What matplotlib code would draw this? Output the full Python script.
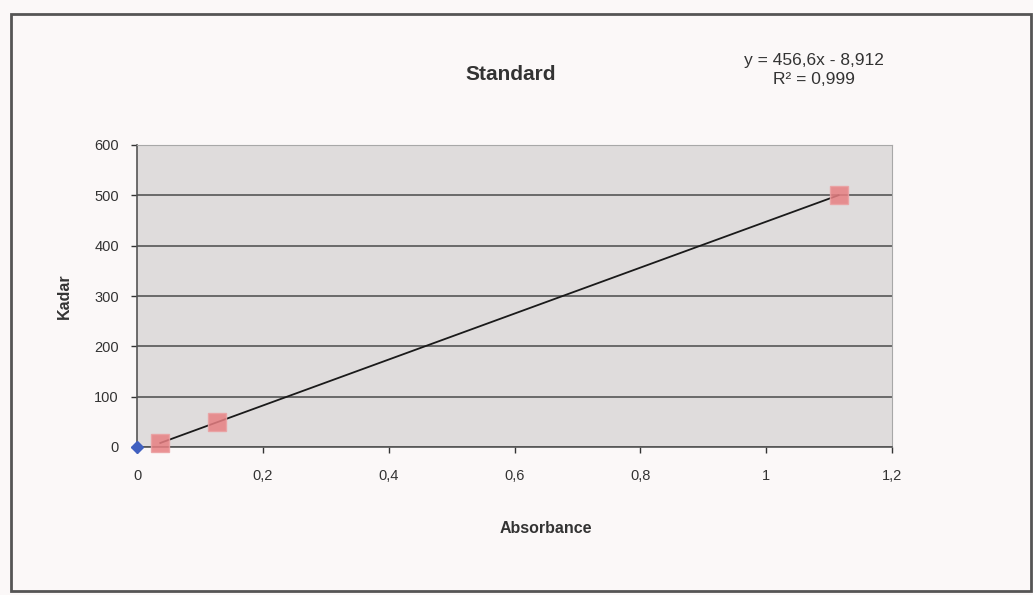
import matplotlib.pyplot as plt
from matplotlib.patches import Rectangle

plt.rcParams['font.family'] = ['Liberation Sans', 'DejaVu Sans']

# standard curve data
blank_x = [0.0]
blank_y = [0.0]
absorbance = [0.037, 0.127, 1.115]
kadar = [8, 50, 500]

# linear trendline reported on the chart
slope = 456.6
intercept = -8.912
r2 = 0.999

x_ticks = [0, 0.2, 0.4, 0.6, 0.8, 1, 1.2]
x_labels = ['0', '0,2', '0,4', '0,6', '0,8', '1', '1,2']
y_ticks = [0, 100, 200, 300, 400, 500, 600]

W, H = 1033, 595
fig = plt.figure(figsize=(W / 100, H / 100), dpi=100)
fig.patch.set_facecolor('#fbf8f8')

# chart frame
fig.patches.append(Rectangle((11 / W, 4 / H), (1031 - 11) / W, (581 - 4) / H,
                             transform=fig.transFigure, fill=False,
                             edgecolor='#555555', linewidth=2))

ax = fig.add_axes([137 / W, 148 / H, 755 / W, 302 / H])
ax.set_facecolor('#dfdcdc')
ax.set_xlim(0, 1.2)
ax.set_ylim(0, 600)

ax.set_yticks(y_ticks)
ax.set_xticks(x_ticks)
ax.set_xticklabels(x_labels)
ax.tick_params(labelsize=10.5, colors='#333333', length=4, width=1, pad=12)
ax.tick_params(axis='y', pad=9)
ax.grid(axis='y', color='#4a4a4a', linewidth=1.1)
ax.set_axisbelow(True)

for side in ['top', 'right']:
    ax.spines[side].set_color('#a8a8a8')
ax.spines['left'].set_color('#555555')
ax.spines['bottom'].set_color('#555555')
ax.spines['left'].set_linewidth(1.2)
ax.spines['bottom'].set_linewidth(1.2)

# trendline over the fitted range
x0, x1 = min(absorbance), max(absorbance)
ax.plot([x0, x1], [slope * x0 + intercept, slope * x1 + intercept],
        color='#1a1a1a', linewidth=1.3, zorder=3)

ax.plot(absorbance, kadar, 's', color='#e77f82', markersize=12.5,
        markeredgecolor='#eba0a2', alpha=0.85, zorder=4, clip_on=False)
ax.plot(blank_x, blank_y, 'D', color='#4060c0', markersize=6,
        zorder=5, clip_on=False)

ax.set_xlabel('Absorbance', fontsize=11.5, fontweight='bold', color='#333333')
ax.xaxis.set_label_coords(0.542, -0.245)
ax.set_ylabel('Kadar', fontsize=11.5, fontweight='bold', color='#333333')
ax.yaxis.set_label_coords(-0.086, 0.5)

fig.text(511 / W, 1 - 75 / H, 'Standard', fontsize=15, fontweight='bold',
         color='#333333', ha='center', va='center')
fig.text(814 / W, 1 - 60 / H, 'y = {:g}x - {:g}'.format(slope, -intercept).replace('.', ','),
         fontsize=12.5, color='#333333', ha='center', va='center')
fig.text(814 / W, 1 - 79 / H, 'R² = {:g}'.format(r2).replace('.', ','),
         fontsize=12.5, color='#333333', ha='center', va='center')

fig.savefig('out.png', dpi=100, facecolor=fig.get_facecolor())
